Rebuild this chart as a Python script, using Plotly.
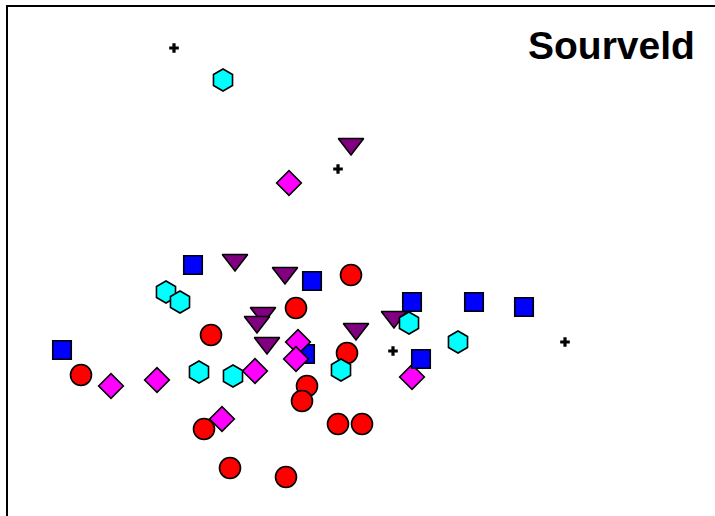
import plotly.graph_objects as go

# Ordination scores (arbitrary units)
red_x = [0.51, -0.04, -0.89, 0.47, -2.19, 0.07, 0.02, -0.96, 0.38, 0.62, -0.70, -0.14]
red_y = [0.25, -0.08, -0.35, -0.53, -0.75, -0.86, -1.01, -1.29, -1.24, -1.24, -1.68, -1.77]

purple_x = [0.51, -0.65, -0.15, -0.37, -0.43, -0.33, 0.56, 0.94]
purple_y = [1.56, 0.40, 0.27, -0.13, -0.22, -0.43, -0.29, -0.17]

blue_x = [-1.07, 0.12, -2.38, 0.05, 1.12, 1.74, 2.24, 1.21]
blue_y = [0.35, 0.19, -0.50, -0.54, -0.02, -0.02, -0.07, -0.59]

magenta_x = [-0.11, -1.89, -1.43, -0.45, -0.02, -0.04, -0.78, 1.12]
magenta_y = [1.17, -0.86, -0.80, -0.71, -0.42, -0.59, -1.19, -0.77]

cyan_x = [-0.77, -1.34, -1.20, -1.01, -0.67, 0.41, 1.09, 1.58]
cyan_y = [2.20, 0.08, -0.02, -0.72, -0.76, -0.70, -0.23, -0.42]

plus_x = [-1.26, 0.38, 0.93, 2.65]
plus_y = [2.52, 1.31, -0.51, -0.42]

title_text = "Sourveld"

x_range = [-2.92, 4.15]
y_range = [-2.16, 2.93]

outline = dict(color="black", width=1.6)

fig = go.Figure()

fig.add_trace(go.Scatter(x=red_x, y=red_y, mode="markers",
                         marker=dict(symbol="circle", size=21, color="#FF0000", line=outline)))
fig.add_trace(go.Scatter(x=purple_x, y=purple_y, mode="markers",
                         marker=dict(symbol="triangle-down", size=22, color="#800080", line=outline)))
fig.add_trace(go.Scatter(x=blue_x[:-1], y=blue_y[:-1], mode="markers",
                         marker=dict(symbol="square", size=18.5, color="#0000FF", line=outline)))
fig.add_trace(go.Scatter(x=magenta_x, y=magenta_y, mode="markers",
                         marker=dict(symbol="diamond", size=19, color="#FF00FF", line=outline)))
fig.add_trace(go.Scatter(x=cyan_x, y=cyan_y, mode="markers",
                         marker=dict(symbol="hexagon", size=22, color="#00FFFF", line=outline)))
fig.add_trace(go.Scatter(x=blue_x[-1:], y=blue_y[-1:], mode="markers",
                         marker=dict(symbol="square", size=18.5, color="#0000FF", line=outline)))
fig.add_trace(go.Scatter(x=plus_x, y=plus_y, mode="markers",
                         marker=dict(symbol="cross", size=8, color="black",
                                     line=dict(color="black", width=0))))

fig.update_layout(
    width=715, height=516,
    margin=dict(l=8, r=0, t=7, b=0),
    paper_bgcolor="white", plot_bgcolor="white",
    showlegend=False,
    xaxis=dict(range=x_range, side="top", showline=True, linecolor="black", linewidth=2,
               showgrid=False, zeroline=False, showticklabels=False, ticks=""),
    yaxis=dict(range=y_range, showline=True, linecolor="black", linewidth=2,
               showgrid=False, zeroline=False, showticklabels=False, ticks=""),
    annotations=[dict(text="<b>" + title_text + "</b>", xref="paper", yref="paper",
                      x=0.975, y=0.925, xanchor="right", yanchor="middle", showarrow=False,
                      font=dict(family="Liberation Sans, Arial", size=39, color="black"))],
)

fig.write_html("out.html", config={"displayModeBar": False},
               post_script="document.body.style.margin='0px';")
